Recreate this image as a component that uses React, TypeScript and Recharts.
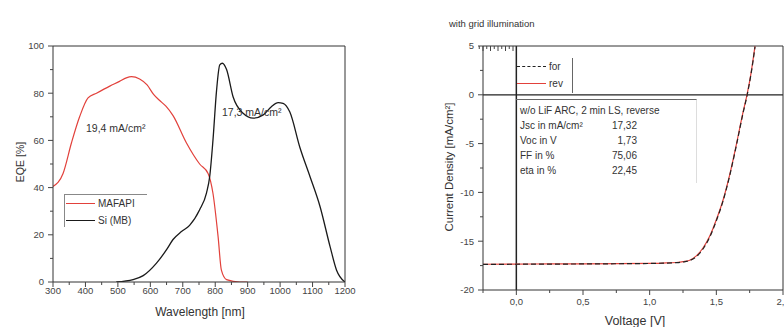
import React from "react";
import { Line, LineChart, ReferenceLine, XAxis, YAxis } from "recharts";

// EQE spectra
const mafapiWavelength = [300, 331, 357, 382, 408, 434, 475, 505, 526, 542, 567, 590, 610, 628, 648, 670, 711, 752, 778, 793, 809, 819, 835, 876, 900];
const mafapiEqe = [40.5, 46, 59, 70, 78, 80, 83, 85, 86.5, 87, 86, 83.5, 79.5, 77, 74.5, 70.5, 59, 50, 46, 37.6, 19, 5, 1, 0, 0];

const siWavelength = [495, 547, 578, 619, 650, 670, 696, 721, 752, 773, 783, 793, 804, 814, 822, 835, 855, 886, 917, 948, 973, 994, 1009, 1030, 1061, 1092, 1123, 1154, 1174, 1200];
const siEqe = [0, 1, 2.7, 8, 13.7, 18, 21.4, 24, 30.6, 37.7, 44.7, 60, 81, 92, 92.7, 90, 78.5, 71.5, 69.4, 70.8, 74.3, 76, 75.7, 72, 57, 44.7, 32, 15, 5, 0];

const eqeXTicks = [300, 350, 400, 450, 500, 550, 600, 650, 700, 750, 800, 850, 900, 950, 1000, 1050, 1100, 1150, 1200];
const eqeYTicks = [0, 10, 20, 30, 40, 50, 60, 70, 80, 90, 100];

// J-V curve (right panel)
const jvVoltage = [-0.25, 0, 0.25, 0.5, 0.75, 1.0, 1.1, 1.2, 1.25, 1.3, 1.35, 1.4, 1.45, 1.5, 1.55, 1.6, 1.65, 1.7, 1.73, 1.76, 1.79];
const jvForward = [-17.38, -17.36, -17.35, -17.33, -17.31, -17.28, -17.25, -17.2, -17.13, -16.98, -16.58, -15.8, -14.6, -12.9, -10.9, -8.3, -5.2, -1.9, -0.1, 2.1, 4.9];
const jvReverse = [-17.36, -17.34, -17.33, -17.32, -17.3, -17.27, -17.24, -17.18, -17.1, -16.95, -16.5, -15.7, -14.5, -12.8, -10.8, -8.2, -5.1, -1.8, 0, 2.2, 5.0];

const jvXTicks = [-0.25, 0, 0.25, 0.5, 0.75, 1.0, 1.25, 1.5, 1.75, 2.0];
const jvYTicks = [-20, -17.5, -15, -12.5, -10, -7.5, -5, -2.5, 0, 2.5, 5];

const cellTitle = "w/o LiF ARC, 2 min LS, reverse";
const cellLabels = ["Jsc in mA/cm²", "Voc in V", "FF in %", "eta in %"];
const cellValues = ["17,32", "1,73", "75,06", "22,45"];

const FONT = "'Liberation Sans', Arial, sans-serif";
const INK = "#333";
const RED = "#e2413b";

const mafapiData = mafapiWavelength.map((x, i) => ({ x, y: mafapiEqe[i] }));
const siData = siWavelength.map((x, i) => ({ x, y: siEqe[i] }));
const jvData = jvVoltage.map((v, i) => ({ v, fwd: jvForward[i], rev: jvReverse[i] }));

type Side = "bottom" | "left" | "top" | "right";

// origin-style ticks: outward on bottom/left with labels, inward on top/right
const axisTick =
  (side: Side, step: number, fmt?: (v: number) => string, gap = 10) =>
  (props: any) => {
    const { x, y, payload } = props;
    const v = payload.value as number;
    const major = Math.abs(v / step - Math.round(v / step)) < 1e-6;
    const len = major ? 5 : 3;
    const ln = { stroke: "#444", strokeWidth: 1 };
    let tick: React.ReactNode = null;
    let label: React.ReactNode = null;
    if (side === "bottom") {
      tick = <line {...ln} x1={x} y1={y} x2={x} y2={y + len} />;
      if (major && fmt)
        label = (
          <text x={x} y={y + gap} dy="0.35em" textAnchor="middle" fill="#444" fontSize={9.5} fontFamily={FONT}>
            {fmt(v)}
          </text>
        );
    } else if (side === "left") {
      tick = <line {...ln} x1={x} y1={y} x2={x - len} y2={y} />;
      if (major && fmt)
        label = (
          <text x={x - gap} y={y} dy="0.35em" textAnchor="end" fill="#444" fontSize={9.5} fontFamily={FONT}>
            {fmt(v)}
          </text>
        );
    } else if (side === "top") {
      tick = <line {...ln} x1={x} y1={y} x2={x} y2={y + len} />;
    } else {
      tick = <line {...ln} x1={x} y1={y} x2={x - len} y2={y} />;
    }
    return (
      <g>
        {tick}
        {label}
      </g>
    );
  };

const Txt = ({
  x,
  y,
  size = 10,
  rotate = false,
  children,
}: {
  x: number;
  y: number;
  size?: number;
  rotate?: boolean;
  children: React.ReactNode;
}) => (
  <div
    style={{
      position: "absolute",
      left: x,
      top: y,
      transform: `translate(-50%, -50%)${rotate ? " rotate(-90deg)" : ""}`,
      fontSize: size,
      whiteSpace: "nowrap",
      lineHeight: 1,
    }}
  >
    {children}
  </div>
);

const LegendRow = ({ color, dashed, label }: { color: string; dashed?: boolean; label: string }) => (
  <div style={{ display: "flex", alignItems: "center", height: 17 }}>
    <span
      style={{
        width: 29,
        borderTop: `1.3px ${dashed ? "dashed" : "solid"} ${color}`,
        marginRight: 3,
      }}
    />
    <span style={{ fontSize: 10 }}>{label}</span>
  </div>
);

const EqePanel = () => (
  <div style={{ position: "absolute", left: 0, top: 0 }}>
    <LineChart width={370} height={327} margin={{ top: 45, right: 24, bottom: 0, left: 0 }}>
      <XAxis
        xAxisId={0}
        type="number"
        dataKey="x"
        domain={[300, 1200]}
        ticks={eqeXTicks}
        interval={0}
        height={45}
        tickSize={0}
        tickMargin={0}
        tickLine={false}
        axisLine={{ stroke: INK }}
        tick={axisTick("bottom", 100, (v) => String(v), 9)}
        allowDataOverflow
      />
      <XAxis
        xAxisId="top"
        orientation="top"
        type="number"
        domain={[300, 1200]}
        ticks={eqeXTicks}
        interval={0}
        height={1}
        tickSize={0}
        tickMargin={0}
        tickLine={false}
        axisLine={{ stroke: INK }}
        tick={axisTick("top", 100)}
      />
      <YAxis
        yAxisId={0}
        type="number"
        domain={[0, 100]}
        ticks={eqeYTicks}
        interval={0}
        width={53}
        tickSize={0}
        tickMargin={0}
        tickLine={false}
        axisLine={{ stroke: INK }}
        tick={axisTick("left", 20, (v) => String(v), 9)}
        allowDataOverflow
      />
      <YAxis
        yAxisId="right"
        orientation="right"
        type="number"
        domain={[0, 100]}
        ticks={eqeYTicks}
        interval={0}
        width={1}
        tickSize={0}
        tickMargin={0}
        tickLine={false}
        axisLine={{ stroke: INK }}
        tick={axisTick("right", 20)}
      />
      <Line
        data={mafapiData}
        dataKey="y"
        type="monotone"
        stroke={RED}
        strokeWidth={1.2}
        dot={false}
        isAnimationActive={false}
      />
      <Line
        data={siData}
        dataKey="y"
        type="monotone"
        stroke="#1a1a1a"
        strokeWidth={1.3}
        dot={false}
        isAnimationActive={false}
      />
    </LineChart>
  </div>
);

const JvPanel = () => (
  <div style={{ position: "absolute", left: 400, top: 0 }}>
    <LineChart width={384} height={327} data={jvData} margin={{ top: 45, right: 0, bottom: 0, left: 0 }}>
      <XAxis
        xAxisId={0}
        type="number"
        dataKey="v"
        domain={[-0.25, 2]}
        ticks={jvXTicks}
        interval={0}
        height={37}
        tickSize={0}
        tickMargin={0}
        tickLine={false}
        axisLine={{ stroke: INK }}
        tick={axisTick("bottom", 0.5, (v) => v.toFixed(1).replace(".", ","), 12)}
        allowDataOverflow
      />
      <XAxis
        xAxisId="top"
        orientation="top"
        type="number"
        domain={[-0.25, 2]}
        ticks={jvXTicks}
        interval={0}
        height={1}
        tickSize={0}
        tickMargin={0}
        tickLine={false}
        axisLine={{ stroke: INK }}
        tick={axisTick("top", 0.5)}
      />
      <YAxis
        yAxisId={0}
        type="number"
        domain={[-20, 5]}
        ticks={jvYTicks}
        interval={0}
        width={83}
        tickSize={0}
        tickMargin={0}
        tickLine={false}
        axisLine={{ stroke: INK }}
        tick={axisTick("left", 5, (v) => String(v), 9)}
        allowDataOverflow
      />
      <YAxis
        yAxisId="right"
        orientation="right"
        type="number"
        domain={[-20, 5]}
        ticks={jvYTicks}
        interval={0}
        width={1}
        tickSize={0}
        tickMargin={0}
        tickLine={false}
        axisLine={{ stroke: INK }}
        tick={axisTick("right", 5)}
      />
      <ReferenceLine x={0} stroke="#222" strokeWidth={1.5} />
      <ReferenceLine y={0} stroke="#222" strokeWidth={1.2} />
      <Line
        dataKey="rev"
        type="monotone"
        stroke={RED}
        strokeWidth={1.2}
        dot={false}
        isAnimationActive={false}
      />
      <Line
        dataKey="fwd"
        type="monotone"
        stroke="#222"
        strokeWidth={1.2}
        strokeDasharray="5 3"
        dot={false}
        isAnimationActive={false}
      />
    </LineChart>
  </div>
);

export default function App() {
  return (
    <div
      style={{
        position: "absolute",
        left: 0,
        top: 0,
        width: 784,
        height: 327,
        overflow: "hidden",
        background: "#fff",
        fontFamily: FONT,
        color: INK,
      }}
    >
      <EqePanel />
      <JvPanel />

      {/* left panel text */}
      <Txt x={20} y={162} size={10.5} rotate>
        EQE [%]
      </Txt>
      <Txt x={200} y={312} size={12}>
        Wavelength [nm]
      </Txt>
      <div style={{ position: "absolute", left: 86, top: 122, fontSize: 10.5, whiteSpace: "nowrap" }}>
        19,4 mA/cm²
      </div>
      <div style={{ position: "absolute", left: 222, top: 106, fontSize: 10.5, whiteSpace: "nowrap" }}>
        17,3 mA/cm²
      </div>
      <div
        style={{
          position: "absolute",
          left: 64,
          top: 194,
          width: 83,
          height: 33,
          borderTop: "1px solid #888",
          borderLeft: "1px solid #888",
          paddingLeft: 1,
          boxSizing: "border-box",
        }}
      >
        <LegendRow color={RED} label="MAFAPI" />
        <LegendRow color="#1a1a1a" label="Si (MB)" />
      </div>

      {/* right panel text */}
      <div style={{ position: "absolute", left: 449, top: 18, fontSize: 9.5, whiteSpace: "nowrap" }}>
        with grid illumination
      </div>
      <Txt x={450} y={167} size={11.5} rotate>
        Current Density [mA/cm²]
      </Txt>
      <Txt x={635} y={321} size={12.5}>
        Voltage [V]
      </Txt>
      <div
        style={{
          position: "absolute",
          left: 517,
          top: 58,
          width: 56,
          height: 35,
          borderRight: "1px solid #666",
          boxSizing: "border-box",
        }}
      >
        <LegendRow color="#222" dashed label="for" />
        <LegendRow color={RED} label="rev" />
      </div>
      <div
        style={{
          position: "absolute",
          left: 516,
          top: 99,
          width: 181,
          height: 84,
          borderTop: "1px solid #666",
          borderRight: "1px solid #ddd",
          boxSizing: "border-box",
          paddingLeft: 4,
          paddingTop: 3,
          fontSize: 10,
        }}
      >
        <div style={{ height: 15, lineHeight: "15px", whiteSpace: "nowrap" }}>{cellTitle}</div>
        {cellLabels.map((label, i) => (
          <div key={label} style={{ position: "relative", width: 117, height: 15, lineHeight: "15px" }}>
            <span style={{ whiteSpace: "nowrap" }}>{label}</span>
            <span style={{ position: "absolute", right: 0, top: 0 }}>{cellValues[i]}</span>
          </div>
        ))}
      </div>
    </div>
  );
}
